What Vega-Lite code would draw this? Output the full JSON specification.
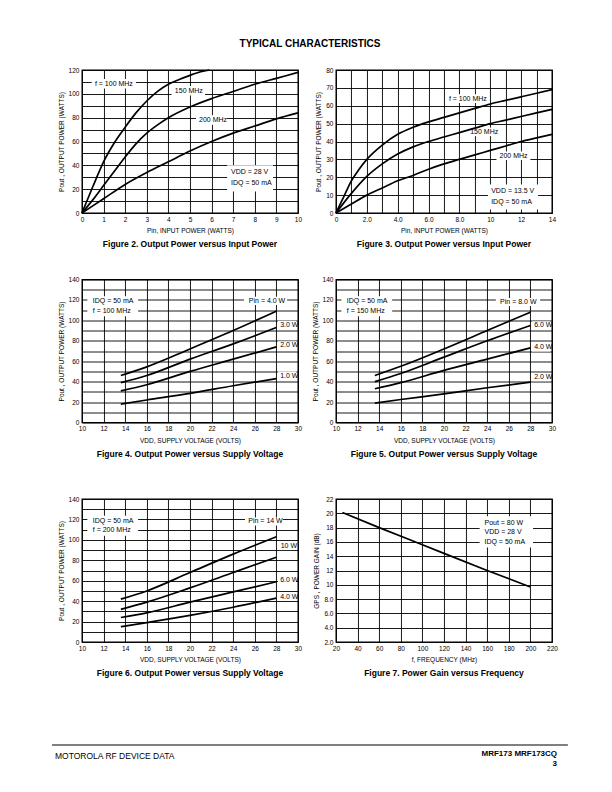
{
  "$schema": "https://vega.github.io/schema/vega-lite/v6.json",
  "padding": {"left": 50, "top": 39, "right": 0, "bottom": 0},
  "config": {
    "font": "Liberation Sans",
    "view": {"stroke": "black", "strokeWidth": 1.3},
    "axis": {"grid": true, "gridColor": "black", "gridOpacity": 1, "gridWidth": 0.9, "domain": false, "ticks": false, "labelFontSize": 6.5, "labelColor": "black", "labelPadding": 3, "labelFlush": false, "labelOverlap": false, "titleFontSize": 6.5, "titleFontWeight": "normal", "titleColor": "black", "titlePadding": 5},
    "axisY": {"titlePadding": 4},
    "title": {"fontSize": 8.5, "fontWeight": "bold", "color": "black"}
  },
  "center": true,
  "spacing": 65,
  "vconcat": [
    {
      "center": true,
      "spacing": 16,
      "vconcat": [
        {
          "width": 540, "height": 10,
          "view": {"stroke": null},
          "data": {"values": [{"x": 0.4815, "y": 0.5, "t": "TYPICAL CHARACTERISTICS"}]},
          "mark": {"type": "text", "align": "center", "baseline": "middle", "fontSize": 10, "fontWeight": "bold", "color": "black"},
          "encoding": {
            "x": {"field": "x", "type": "quantitative", "scale": {"domain": [0, 1], "nice": false}, "axis": null},
            "y": {"field": "y", "type": "quantitative", "scale": {"domain": [0, 1], "nice": false}, "axis": null},
            "text": {"field": "t"}
          }
        },
        {
          "spacing": 36,
          "vconcat": [
            {
              "spacing": 25.5,
              "vconcat": [
                {
                  "bounds": "flush",
                  "spacing": 38,
                  "hconcat": [
                    {
                      "width": 216, "height": 143,
                      "title": {"text": "Figure 2. Output Power versus Input Power", "orient": "bottom", "anchor": "middle", "offset": 6},
                      "encoding": {
                        "x": {"field": "x", "type": "quantitative", "scale": {"domain": [0, 10], "nice": false, "zero": false}, "axis": {"values": [0,1,2,3,4,5,6,7,8,9,10], "title": "Pin, INPUT POWER (WATTS)"}},
                        "y": {"field": "y", "type": "quantitative", "scale": {"domain": [0, 120], "nice": false}, "axis": {"values": [0,10,20,30,40,50,60,70,80,90,100,110,120], "labelExpr": "datum.value % 20 == 0 ? datum.label : ''", "title": "Pout , OUTPUT POWER (WATTS)"}}
                      },
                      "layer": [
                        {
                          "data": {"values": [
                            {"x": 0.45, "x2": 2.5, "y": 104.5, "y2": 112.5},
                            {"x": 4.15, "x2": 5.7, "y": 98.5, "y2": 106.5},
                            {"x": 5.28, "x2": 6.72, "y": 74, "y2": 82},
                            {"x": 6.72, "x2": 8.85, "y": 18, "y2": 40}
                          ]},
                          "mark": {"type": "rect", "fill": "white"},
                          "encoding": {"x2": {"field": "x2"}, "y2": {"field": "y2"}}
                        },
                        {
                          "data": {"values": [
                            {"s": "100 MHz", "x": 0, "y": 0}, {"s": "100 MHz", "x": 0.5, "y": 22}, {"s": "100 MHz", "x": 1, "y": 43}, {"s": "100 MHz", "x": 1.5, "y": 59}, {"s": "100 MHz", "x": 2, "y": 72}, {"s": "100 MHz", "x": 2.5, "y": 84}, {"s": "100 MHz", "x": 3, "y": 94}, {"s": "100 MHz", "x": 3.5, "y": 102}, {"s": "100 MHz", "x": 4, "y": 108}, {"s": "100 MHz", "x": 4.5, "y": 112}, {"s": "100 MHz", "x": 5, "y": 115.5}, {"s": "100 MHz", "x": 5.5, "y": 118.5}, {"s": "100 MHz", "x": 5.9, "y": 120},
                            {"s": "150 MHz", "x": 0, "y": 0}, {"s": "150 MHz", "x": 0.5, "y": 11}, {"s": "150 MHz", "x": 1, "y": 23}, {"s": "150 MHz", "x": 1.5, "y": 35}, {"s": "150 MHz", "x": 2, "y": 47}, {"s": "150 MHz", "x": 2.5, "y": 58}, {"s": "150 MHz", "x": 3, "y": 67}, {"s": "150 MHz", "x": 3.5, "y": 74}, {"s": "150 MHz", "x": 4, "y": 80}, {"s": "150 MHz", "x": 5, "y": 89}, {"s": "150 MHz", "x": 6, "y": 96}, {"s": "150 MHz", "x": 7, "y": 102}, {"s": "150 MHz", "x": 8, "y": 108}, {"s": "150 MHz", "x": 9, "y": 113}, {"s": "150 MHz", "x": 10, "y": 118},
                            {"s": "200 MHz", "x": 0, "y": 0}, {"s": "200 MHz", "x": 1, "y": 12}, {"s": "200 MHz", "x": 2, "y": 24}, {"s": "200 MHz", "x": 3, "y": 34}, {"s": "200 MHz", "x": 4, "y": 43}, {"s": "200 MHz", "x": 5, "y": 52}, {"s": "200 MHz", "x": 6, "y": 60}, {"s": "200 MHz", "x": 7, "y": 67}, {"s": "200 MHz", "x": 8, "y": 73}, {"s": "200 MHz", "x": 9, "y": 79}, {"s": "200 MHz", "x": 10, "y": 84}
                          ]},
                          "mark": {"type": "line", "color": "black", "strokeWidth": 1.7, "interpolate": "monotone"},
                          "encoding": {"detail": {"field": "s"}}
                        },
                        {
                          "data": {"values": [
                            {"x": 0.6, "y": 108.5, "t": "f = 100 MHz"},
                            {"x": 4.3, "y": 102.5, "t": "150 MHz"},
                            {"x": 5.42, "y": 78, "t": "200 MHz"},
                            {"x": 6.9, "y": 34.5, "t": "VDD = 28  V"},
                            {"x": 6.9, "y": 25, "t": "IDQ = 50 mA"}
                          ]},
                          "mark": {"type": "text", "align": "left", "baseline": "middle", "fontSize": 7, "color": "black"},
                          "encoding": {"text": {"field": "t"}}
                        }
                      ]
                    },
                    {
                      "width": 216, "height": 143,
                      "title": {"text": "Figure 3. Output Power versus Input Power", "orient": "bottom", "anchor": "middle", "offset": 6},
                      "encoding": {
                        "x": {"field": "x", "type": "quantitative", "scale": {"domain": [0, 14], "nice": false, "zero": false}, "axis": {"values": [0,1,2,3,4,5,6,7,8,9,10,11,12,13,14], "labelExpr": "datum.value % 2 != 0 ? '' : datum.value == 0 ? '0' : datum.value < 10 ? format(datum.value, '.1f') : format(datum.value, 'd')", "title": "Pin, INPUT POWER (WATTS)"}},
                        "y": {"field": "y", "type": "quantitative", "scale": {"domain": [0, 80], "nice": false}, "axis": {"values": [0,10,20,30,40,50,60,70,80], "title": "Pout , OUTPUT POWER (WATTS)"}}
                      },
                      "layer": [
                        {
                          "data": {"values": [
                            {"x": 7.1, "x2": 9.95, "y": 61.6, "y2": 66.4},
                            {"x": 8.5, "x2": 10.5, "y": 43, "y2": 47.8},
                            {"x": 10.4, "x2": 12.6, "y": 29.6, "y2": 34.4},
                            {"x": 9.85, "x2": 13.1, "y": 2, "y2": 16}
                          ]},
                          "mark": {"type": "rect", "fill": "white"},
                          "encoding": {"x2": {"field": "x2"}, "y2": {"field": "y2"}}
                        },
                        {
                          "data": {"values": [
                            {"s": "100 MHz", "x": 0, "y": 0}, {"s": "100 MHz", "x": 0.5, "y": 9}, {"s": "100 MHz", "x": 1, "y": 18}, {"s": "100 MHz", "x": 1.5, "y": 24.5}, {"s": "100 MHz", "x": 2, "y": 30}, {"s": "100 MHz", "x": 3, "y": 38}, {"s": "100 MHz", "x": 4, "y": 44}, {"s": "100 MHz", "x": 5, "y": 48}, {"s": "100 MHz", "x": 6, "y": 51}, {"s": "100 MHz", "x": 7, "y": 53.5}, {"s": "100 MHz", "x": 8, "y": 56}, {"s": "100 MHz", "x": 9, "y": 58.5}, {"s": "100 MHz", "x": 10, "y": 61}, {"s": "100 MHz", "x": 11, "y": 63}, {"s": "100 MHz", "x": 12, "y": 65}, {"s": "100 MHz", "x": 13, "y": 67}, {"s": "100 MHz", "x": 14, "y": 69},
                            {"s": "150 MHz", "x": 0, "y": 0}, {"s": "150 MHz", "x": 1, "y": 11}, {"s": "150 MHz", "x": 2, "y": 20.5}, {"s": "150 MHz", "x": 3, "y": 27.5}, {"s": "150 MHz", "x": 4, "y": 33}, {"s": "150 MHz", "x": 5, "y": 37}, {"s": "150 MHz", "x": 6, "y": 40}, {"s": "150 MHz", "x": 7, "y": 42.5}, {"s": "150 MHz", "x": 8, "y": 45}, {"s": "150 MHz", "x": 9, "y": 47.5}, {"s": "150 MHz", "x": 10, "y": 50}, {"s": "150 MHz", "x": 11, "y": 52}, {"s": "150 MHz", "x": 12, "y": 54}, {"s": "150 MHz", "x": 13, "y": 56}, {"s": "150 MHz", "x": 14, "y": 58},
                            {"s": "200 MHz", "x": 0, "y": 0}, {"s": "200 MHz", "x": 1, "y": 5}, {"s": "200 MHz", "x": 2, "y": 10}, {"s": "200 MHz", "x": 3, "y": 14}, {"s": "200 MHz", "x": 4, "y": 18}, {"s": "200 MHz", "x": 5, "y": 21}, {"s": "200 MHz", "x": 6, "y": 24.5}, {"s": "200 MHz", "x": 7, "y": 27.5}, {"s": "200 MHz", "x": 8, "y": 30}, {"s": "200 MHz", "x": 9, "y": 32.5}, {"s": "200 MHz", "x": 10, "y": 35}, {"s": "200 MHz", "x": 11, "y": 37.5}, {"s": "200 MHz", "x": 12, "y": 40}, {"s": "200 MHz", "x": 13, "y": 42}, {"s": "200 MHz", "x": 14, "y": 44}
                          ]},
                          "mark": {"type": "line", "color": "black", "strokeWidth": 1.7, "interpolate": "monotone"},
                          "encoding": {"detail": {"field": "s"}}
                        },
                        {
                          "data": {"values": [
                            {"x": 7.32, "y": 64, "t": "f = 100 MHz"},
                            {"x": 8.7, "y": 45.4, "t": "150 MHz"},
                            {"x": 10.6, "y": 32, "t": "200 MHz"},
                            {"x": 10.06, "y": 12.2, "t": "VDD = 13.5  V"},
                            {"x": 10.06, "y": 6.2, "t": "IDQ = 50 mA"}
                          ]},
                          "mark": {"type": "text", "align": "left", "baseline": "middle", "fontSize": 7, "color": "black"},
                          "encoding": {"text": {"field": "t"}}
                        }
                      ]
                    }
                  ]
                },
                {
                  "bounds": "flush",
                  "spacing": 38,
                  "hconcat": [
                    {
                      "width": 216, "height": 143,
                      "title": {"text": "Figure 4. Output Power versus Supply Voltage", "orient": "bottom", "anchor": "middle", "offset": 6},
                      "encoding": {
                        "x": {"field": "x", "type": "quantitative", "scale": {"domain": [10, 30], "nice": false, "zero": false}, "axis": {"values": [10,12,14,16,18,20,22,24,26,28,30], "title": "VDD, SUPPLY VOLTAGE (VOLTS)"}},
                        "y": {"field": "y", "type": "quantitative", "scale": {"domain": [0, 140], "nice": false}, "axis": {"values": [0,10,20,30,40,50,60,70,80,90,100,110,120,130,140], "labelExpr": "datum.value % 20 == 0 ? datum.label : ''", "title": "Pout , OUTPUT POWER (WATTS)"}}
                      },
                      "layer": [
                        {
                          "data": {"values": [
                            {"x": 10.5, "x2": 15.2, "y": 104, "y2": 123.5},
                            {"x": 25.0, "x2": 29.0, "y": 115, "y2": 123},
                            {"x": 28.15, "x2": 29.85, "y": 91.5, "y2": 99.5},
                            {"x": 28.15, "x2": 29.85, "y": 71.5, "y2": 79.5},
                            {"x": 28.15, "x2": 29.85, "y": 42, "y2": 50}
                          ]},
                          "mark": {"type": "rect", "fill": "white"},
                          "encoding": {"x2": {"field": "x2"}, "y2": {"field": "y2"}}
                        },
                        {
                          "data": {"values": [
                            {"s": "4.0 W", "x": 13.6, "y": 46}, {"s": "4.0 W", "x": 16, "y": 54.5}, {"s": "4.0 W", "x": 20, "y": 72}, {"s": "4.0 W", "x": 24, "y": 90}, {"s": "4.0 W", "x": 28, "y": 109},
                            {"s": "3.0 W", "x": 13.6, "y": 39}, {"s": "3.0 W", "x": 16, "y": 46}, {"s": "3.0 W", "x": 20, "y": 62}, {"s": "3.0 W", "x": 24, "y": 77}, {"s": "3.0 W", "x": 28, "y": 93},
                            {"s": "2.0 W", "x": 13.6, "y": 31}, {"s": "2.0 W", "x": 16, "y": 37}, {"s": "2.0 W", "x": 20, "y": 50}, {"s": "2.0 W", "x": 24, "y": 62}, {"s": "2.0 W", "x": 28, "y": 74},
                            {"s": "1.0 W", "x": 13.6, "y": 18}, {"s": "1.0 W", "x": 16, "y": 22}, {"s": "1.0 W", "x": 20, "y": 28.5}, {"s": "1.0 W", "x": 24, "y": 36}, {"s": "1.0 W", "x": 28, "y": 43}
                          ]},
                          "mark": {"type": "line", "color": "black", "strokeWidth": 1.7, "interpolate": "monotone"},
                          "encoding": {"detail": {"field": "s"}}
                        },
                        {
                          "data": {"values": [
                            {"x": 11.0, "y": 118.6, "t": "IDQ = 50 mA"},
                            {"x": 11.0, "y": 109, "t": "f = 100 MHz"},
                            {"x": 25.45, "y": 119, "t": "Pin = 4.0 W"},
                            {"x": 28.35, "y": 95.5, "t": "3.0 W"},
                            {"x": 28.35, "y": 75.5, "t": "2.0 W"},
                            {"x": 28.35, "y": 46, "t": "1.0 W"}
                          ]},
                          "mark": {"type": "text", "align": "left", "baseline": "middle", "fontSize": 7, "color": "black"},
                          "encoding": {"text": {"field": "t"}}
                        }
                      ]
                    },
                    {
                      "width": 216, "height": 143,
                      "title": {"text": "Figure 5. Output Power versus Supply Voltage", "orient": "bottom", "anchor": "middle", "offset": 6},
                      "encoding": {
                        "x": {"field": "x", "type": "quantitative", "scale": {"domain": [10, 30], "nice": false, "zero": false}, "axis": {"values": [10,12,14,16,18,20,22,24,26,28,30], "title": "VDD, SUPPLY VOLTAGE (VOLTS)"}},
                        "y": {"field": "y", "type": "quantitative", "scale": {"domain": [0, 140], "nice": false}, "axis": {"values": [0,10,20,30,40,50,60,70,80,90,100,110,120,130,140], "labelExpr": "datum.value % 20 == 0 ? datum.label : ''", "title": "Pout , OUTPUT POWER (WATTS)"}}
                      },
                      "layer": [
                        {
                          "data": {"values": [
                            {"x": 10.5, "x2": 15.2, "y": 104, "y2": 123.5},
                            {"x": 24.8, "x2": 28.9, "y": 114, "y2": 122},
                            {"x": 28.15, "x2": 29.85, "y": 91, "y2": 99},
                            {"x": 28.15, "x2": 29.85, "y": 69.5, "y2": 77.5},
                            {"x": 28.15, "x2": 29.85, "y": 40.5, "y2": 48.5}
                          ]},
                          "mark": {"type": "rect", "fill": "white"},
                          "encoding": {"x2": {"field": "x2"}, "y2": {"field": "y2"}}
                        },
                        {
                          "data": {"values": [
                            {"s": "8.0 W", "x": 13.6, "y": 46}, {"s": "8.0 W", "x": 16, "y": 55}, {"s": "8.0 W", "x": 20, "y": 72}, {"s": "8.0 W", "x": 24, "y": 90}, {"s": "8.0 W", "x": 28, "y": 108},
                            {"s": "6.0 W", "x": 13.6, "y": 40}, {"s": "6.0 W", "x": 16, "y": 48}, {"s": "6.0 W", "x": 20, "y": 64}, {"s": "6.0 W", "x": 24, "y": 80}, {"s": "6.0 W", "x": 28, "y": 95},
                            {"s": "4.0 W", "x": 13.6, "y": 33}, {"s": "4.0 W", "x": 16, "y": 39}, {"s": "4.0 W", "x": 20, "y": 51}, {"s": "4.0 W", "x": 24, "y": 62}, {"s": "4.0 W", "x": 28, "y": 73},
                            {"s": "2.0 W", "x": 13.6, "y": 19}, {"s": "2.0 W", "x": 16, "y": 22.5}, {"s": "2.0 W", "x": 20, "y": 28}, {"s": "2.0 W", "x": 24, "y": 34}, {"s": "2.0 W", "x": 28, "y": 39.5}
                          ]},
                          "mark": {"type": "line", "color": "black", "strokeWidth": 1.7, "interpolate": "monotone"},
                          "encoding": {"detail": {"field": "s"}}
                        },
                        {
                          "data": {"values": [
                            {"x": 11.0, "y": 118.6, "t": "IDQ = 50 mA"},
                            {"x": 11.0, "y": 109, "t": "f = 150 MHz"},
                            {"x": 25.2, "y": 118, "t": "Pin = 8.0 W"},
                            {"x": 28.35, "y": 95, "t": "6.0 W"},
                            {"x": 28.35, "y": 73.5, "t": "4.0 W"},
                            {"x": 28.35, "y": 44.5, "t": "2.0 W"}
                          ]},
                          "mark": {"type": "text", "align": "left", "baseline": "middle", "fontSize": 7, "color": "black"},
                          "encoding": {"text": {"field": "t"}}
                        }
                      ]
                    }
                  ]
                }
              ]
            },
            {
              "bounds": "flush",
              "spacing": 38,
              "hconcat": [
                {
                  "width": 216, "height": 143,
                  "title": {"text": "Figure 6. Output Power versus Supply Voltage", "orient": "bottom", "anchor": "middle", "offset": 6},
                  "encoding": {
                    "x": {"field": "x", "type": "quantitative", "scale": {"domain": [10, 30], "nice": false, "zero": false}, "axis": {"values": [10,12,14,16,18,20,22,24,26,28,30], "title": "VDD, SUPPLY VOLTAGE (VOLTS)"}},
                    "y": {"field": "y", "type": "quantitative", "scale": {"domain": [0, 140], "nice": false}, "axis": {"values": [0,10,20,30,40,50,60,70,80,90,100,110,120,130,140], "labelExpr": "datum.value % 20 == 0 ? datum.label : ''", "title": "Pout , OUTPUT POWER (WATTS)"}}
                  },
                  "layer": [
                    {
                      "data": {"values": [
                        {"x": 10.5, "x2": 15.2, "y": 104, "y2": 123.5},
                        {"x": 25.1, "x2": 28.6, "y": 114, "y2": 122},
                        {"x": 28.2, "x2": 29.7, "y": 90, "y2": 98},
                        {"x": 28.15, "x2": 29.85, "y": 57, "y2": 65},
                        {"x": 28.15, "x2": 29.85, "y": 40.5, "y2": 48.5}
                      ]},
                      "mark": {"type": "rect", "fill": "white"},
                      "encoding": {"x2": {"field": "x2"}, "y2": {"field": "y2"}}
                    },
                    {
                      "data": {"values": [
                        {"s": "14 W", "x": 13.6, "y": 42}, {"s": "14 W", "x": 16, "y": 50}, {"s": "14 W", "x": 20, "y": 68}, {"s": "14 W", "x": 24, "y": 86}, {"s": "14 W", "x": 28, "y": 103},
                        {"s": "10 W", "x": 13.6, "y": 32}, {"s": "10 W", "x": 16, "y": 39}, {"s": "10 W", "x": 20, "y": 53}, {"s": "10 W", "x": 24, "y": 68}, {"s": "10 W", "x": 28, "y": 83},
                        {"s": "6.0 W", "x": 13.6, "y": 24}, {"s": "6.0 W", "x": 16, "y": 28.5}, {"s": "6.0 W", "x": 20, "y": 39}, {"s": "6.0 W", "x": 24, "y": 49}, {"s": "6.0 W", "x": 28, "y": 59},
                        {"s": "4.0 W", "x": 13.6, "y": 15}, {"s": "4.0 W", "x": 16, "y": 19}, {"s": "4.0 W", "x": 20, "y": 26}, {"s": "4.0 W", "x": 24, "y": 34}, {"s": "4.0 W", "x": 28, "y": 43}
                      ]},
                      "mark": {"type": "line", "color": "black", "strokeWidth": 1.7, "interpolate": "monotone"},
                      "encoding": {"detail": {"field": "s"}}
                    },
                    {
                      "data": {"values": [
                        {"x": 11.0, "y": 118.6, "t": "IDQ = 50 mA"},
                        {"x": 11.0, "y": 109.4, "t": "f = 200 MHz"},
                        {"x": 25.4, "y": 118, "t": "Pin = 14 W"},
                        {"x": 28.4, "y": 94, "t": "10 W"},
                        {"x": 28.35, "y": 61, "t": "6.0 W"},
                        {"x": 28.35, "y": 44.5, "t": "4.0 W"}
                      ]},
                      "mark": {"type": "text", "align": "left", "baseline": "middle", "fontSize": 7, "color": "black"},
                      "encoding": {"text": {"field": "t"}}
                    }
                  ]
                },
                {
                  "width": 216, "height": 143,
                  "title": {"text": "Figure 7. Power Gain versus Frequency", "orient": "bottom", "anchor": "middle", "offset": 6},
                  "encoding": {
                    "x": {"field": "x", "type": "quantitative", "scale": {"domain": [20, 220], "nice": false, "zero": false}, "axis": {"values": [20,40,60,80,100,120,140,160,180,200,220], "title": "f, FREQUENCY (MHz)"}},
                    "y": {"field": "y", "type": "quantitative", "scale": {"domain": [2, 22], "nice": false, "zero": false}, "axis": {"values": [2,4,6,8,10,12,14,16,18,20,22], "labelExpr": "datum.value < 10 ? format(datum.value, '.1f') : datum.label", "title": "GPS , POWER GAIN (dB)"}}
                  },
                  "layer": [
                    {
                      "data": {"values": [
                        {"x": 153, "x2": 202.5, "y": 15.2, "y2": 19.6}
                      ]},
                      "mark": {"type": "rect", "fill": "white"},
                      "encoding": {"x2": {"field": "x2"}, "y2": {"field": "y2"}}
                    },
                    {
                      "data": {"values": [
                        {"s": "gain", "x": 26, "y": 20.1}, {"s": "gain", "x": 60, "y": 18}, {"s": "gain", "x": 100, "y": 15.6}, {"s": "gain", "x": 160, "y": 12}, {"s": "gain", "x": 200, "y": 9.7}
                      ]},
                      "mark": {"type": "line", "color": "black", "strokeWidth": 1.7, "interpolate": "monotone"},
                      "encoding": {"detail": {"field": "s"}}
                    },
                    {
                      "data": {"values": [
                        {"x": 157.5, "y": 18.7, "t": "Pout = 80 W"},
                        {"x": 157.5, "y": 17.35, "t": "VDD = 28 V"},
                        {"x": 157.5, "y": 16.0, "t": "IDQ = 50 mA"}
                      ]},
                      "mark": {"type": "text", "align": "left", "baseline": "middle", "fontSize": 7, "color": "black"},
                      "encoding": {"text": {"field": "t"}}
                    }
                  ]
                }
              ]
            }
          ]
        }
      ]
    },
    {
      "width": 540, "height": 22,
      "view": {"stroke": null},
      "encoding": {
        "x": {"field": "x", "type": "quantitative", "scale": {"domain": [0, 1], "nice": false}, "axis": null},
        "y": {"field": "y", "type": "quantitative", "scale": {"domain": [0, 1], "nice": false}, "axis": null}
      },
      "layer": [
        {
          "data": {"values": [{"x": 0.0037, "x2": 0.959, "y": 1}]},
          "mark": {"type": "rule", "color": "black", "strokeWidth": 1},
          "encoding": {"x2": {"field": "x2"}}
        },
        {
          "data": {"values": [{"x": 0.0093, "y": 0.5, "t": "MOTOROLA RF DEVICE DATA"}]},
          "mark": {"type": "text", "align": "left", "baseline": "middle", "fontSize": 8.5, "color": "black"},
          "encoding": {"text": {"field": "t"}}
        },
        {
          "data": {"values": [{"x": 0.939, "y": 0.57, "t": "MRF173 MRF173CQ"}, {"x": 0.939, "y": 0.12, "t": "3"}]},
          "mark": {"type": "text", "align": "right", "baseline": "middle", "fontSize": 8, "fontWeight": "bold", "color": "black"},
          "encoding": {"text": {"field": "t"}}
        }
      ]
    }
  ]
}
